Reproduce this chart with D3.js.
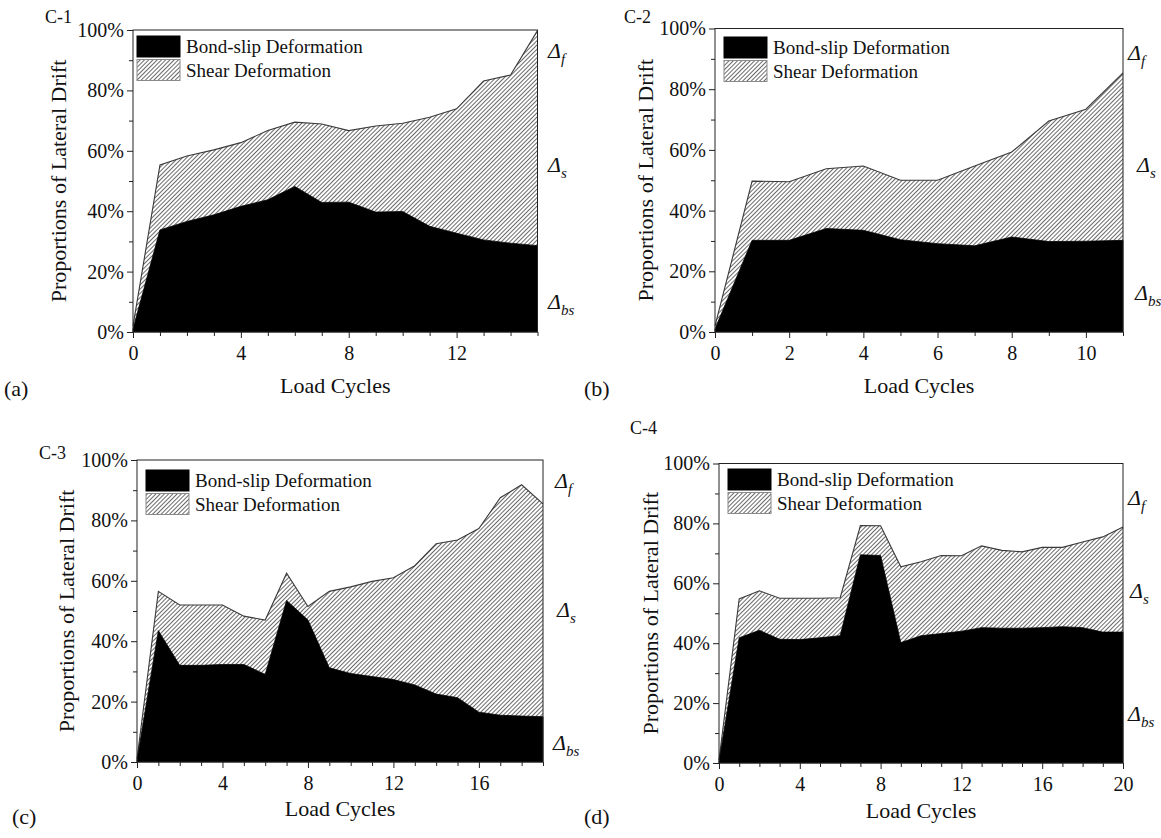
<!DOCTYPE html>
<html>
<head>
<meta charset="utf-8">
<script src="https://cdn.jsdelivr.net/npm/d3@7"></script>
</head>
<body style="margin:0; background:#fff">
<svg id="canvas" width="1161" height="838"></svg>
<script>
// Values, % of lateral drift, one entry per load cycle (0, 1, 2, ...)
// bondSlip = top of the black area, driftTop = top of the hatched (shear) area
const bondSlipC1 = [1, 33.8, 36.6, 38.8, 41.6, 43.8, 48.2, 42.9, 43.0, 39.7, 39.9, 35.0, 32.7, 30.5, 29.4, 28.6];
const driftTopC1 = [2, 55.3, 58.3, 60.3, 62.7, 66.7, 69.5, 68.9, 66.7, 68.2, 69.1, 71.1, 73.9, 83.1, 85.1, 99.8];

const bondSlipC2 = [1, 30.2, 30.2, 34.1, 33.5, 30.4, 29.1, 28.4, 31.3, 29.8, 29.9, 30.2];
const driftTopC2 = [2, 49.7, 49.5, 53.8, 54.7, 50.0, 50.0, 54.7, 59.3, 69.5, 73.4, 85.4];

const bondSlipC3 = [0.5, 43.5, 32.0, 32.0, 32.3, 32.3, 29.0, 53.5, 47.0, 31.2, 29.3, 28.3, 27.3, 25.5, 22.5, 21.3, 16.5, 15.5, 15.2, 15.0];
const driftTopC3 = [1, 56.5, 52.0, 52.0, 52.0, 48.3, 47.0, 62.5, 51.5, 56.5, 58.0, 59.8, 61.0, 65.0, 72.3, 73.5, 77.3, 87.5, 91.8, 85.5];

const bondSlipC4 = [0.5, 41.8, 44.3, 41.3, 41.2, 41.8, 42.5, 69.5, 69.3, 40.2, 42.5, 43.2, 44.0, 45.2, 45.0, 45.0, 45.2, 45.5, 45.2, 43.7, 43.7];
const driftTopC4 = [1, 54.8, 57.5, 55.0, 55.0, 55.0, 55.2, 79.3, 79.2, 65.5, 67.2, 69.3, 69.2, 72.5, 71.0, 70.5, 72.0, 72.0, 73.8, 75.5, 78.8];

const yMajorTicks = [0, 20, 40, 60, 80, 100];
const yMinorTicks = [10, 30, 50, 70, 90];
const legendLabels = ["Bond-slip Deformation", "Shear Deformation"];
const driftSubscripts = ["f", "s", "bs"];

const FONT = "'Liberation Serif', 'Times New Roman', Times, serif";

const panels = [
    { name: "C-1", tag: "(a)", bond: bondSlipC1, total: driftTopC1, xMax: 15, xMajor: [0, 4, 8, 12],
      left: 133, right: 537.5, top: 30, bottom: 332,
      nameX: 45, nameY: 23, tagX: 4, tagY: 396, titleX: 58, titleY: 393,
      legendX: 137, legendY: 36, deltaX: [548, 548, 548], deltaY: [58, 172, 309] },
    { name: "C-2", tag: "(b)", bond: bondSlipC2, total: driftTopC2, xMax: 11, xMajor: [0, 2, 4, 6, 8, 10],
      left: 715, right: 1123, top: 28.5, bottom: 332,
      nameX: 624, nameY: 23, tagX: 584, tagY: 396, titleX: 645, titleY: 393,
      legendX: 724, legendY: 37, deltaX: [1128, 1137, 1135], deltaY: [60, 172, 300] },
    { name: "C-3", tag: "(c)", bond: bondSlipC3, total: driftTopC3, xMax: 19, xMajor: [0, 4, 8, 12, 16],
      left: 137, right: 543, top: 460, bottom: 762,
      nameX: 39, nameY: 459, tagX: 12, tagY: 824, titleX: 66, titleY: 816,
      legendX: 146, legendY: 470, deltaX: [555, 557, 553], deltaY: [488, 617, 750] },
    { name: "C-4", tag: "(d)", bond: bondSlipC4, total: driftTopC4, xMax: 20, xMajor: [0, 4, 8, 12, 16, 20],
      left: 719, right: 1123, top: 463.5, bottom: 763,
      nameX: 630, nameY: 434, tagX: 584, tagY: 824, titleX: 650, titleY: 818,
      legendX: 728, legendY: 469, deltaX: [1128, 1130, 1128], deltaY: [505, 598, 721] }
];

const svg = d3.select("#canvas");

// diagonal hatch used for the shear area
svg.append("defs").append("pattern")
    .attr("id", "hatch")
    .attr("width", 3)
    .attr("height", 3)
    .attr("patternUnits", "userSpaceOnUse")
    .attr("patternTransform", "rotate(45)")
    .call(p => {
        p.append("rect").attr("width", 3).attr("height", 3).attr("fill", "#fff");
        p.append("line").attr("x1", 0.5).attr("x2", 0.5).attr("y1", 0).attr("y2", 3)
            .attr("stroke", "#6a6a6a").attr("stroke-width", 1);
    });

function drawPanel(p) {
    const g = svg.append("g");
    const cycles = p.bond.map((d, i) => i);

    const x = d3.scaleLinear().domain([0, p.xMax]).range([p.left, p.right]);
    const y = d3.scaleLinear().domain([0, 100]).range([p.bottom, p.top]);

    // shear area sits between bond-slip and the drift top
    const shearArea = d3.area()
        .x(i => x(i))
        .y0(i => y(p.bond[i]))
        .y1(i => y(p.total[i]));
    const bondArea = d3.area()
        .x(i => x(i))
        .y0(y(0))
        .y1(i => y(p.bond[i]));

    g.append("path")
        .attr("d", shearArea(cycles))
        .attr("fill", "url(#hatch)");
    g.append("path")
        .attr("d", d3.line().x(i => x(i)).y(i => y(p.total[i]))(cycles))
        .attr("fill", "none")
        .attr("stroke", "#3a3a3a")
        .attr("stroke-width", 1.1);
    g.append("path")
        .attr("d", bondArea(cycles))
        .attr("fill", "#000")
        .attr("stroke", "#000")
        .attr("stroke-width", 0.8);

    // frame
    g.append("rect")
        .attr("x", p.left)
        .attr("y", p.top)
        .attr("width", p.right - p.left)
        .attr("height", p.bottom - p.top)
        .attr("fill", "none")
        .attr("stroke", "#222")
        .attr("stroke-width", 1);

    // x axis, major and minor ticks pointing outward
    const xMinor = cycles.filter(c => p.xMajor.indexOf(c) < 0);
    g.append("g")
        .attr("transform", "translate(0," + p.bottom + ")")
        .call(d3.axisBottom(x).tickValues(xMinor).tickSize(4).tickFormat(""))
        .call(a => a.select(".domain").remove());
    g.append("g")
        .attr("transform", "translate(0," + p.bottom + ")")
        .call(d3.axisBottom(x).tickValues(p.xMajor).tickSize(6).tickPadding(8).tickFormat(d3.format("d")))
        .call(a => a.select(".domain").remove())
        .call(a => a.selectAll("text").style("font-size", "20px").attr("fill", "#111"));

    // y axis
    g.append("g")
        .attr("transform", "translate(" + p.left + ",0)")
        .call(d3.axisLeft(y).tickValues(yMinorTicks).tickSize(4).tickFormat(""))
        .call(a => a.select(".domain").remove());
    g.append("g")
        .attr("transform", "translate(" + p.left + ",0)")
        .call(d3.axisLeft(y).tickValues(yMajorTicks).tickSize(6).tickPadding(3).tickFormat(d => d + "%"))
        .call(a => a.select(".domain").remove())
        .call(a => a.selectAll("text").style("font-size", "20px").attr("fill", "#111"));

    g.selectAll(".tick line").attr("stroke", "#222");

    // axis titles
    g.append("text")
        .attr("x", (p.left + p.right) / 2)
        .attr("y", p.titleY)
        .attr("text-anchor", "middle")
        .style("font-size", "22px")
        .text("Load Cycles");
    g.append("text")
        .attr("transform", "translate(" + p.titleX + "," + ((p.top + p.bottom) / 2) + ") rotate(-90)")
        .attr("text-anchor", "middle")
        .attr("dy", "0.35em")
        .style("font-size", "22px")
        .text("Proportions of Lateral Drift");

    // specimen name and panel tag
    g.append("text")
        .attr("x", p.nameX).attr("y", p.nameY)
        .style("font-size", "18px")
        .text(p.name);
    g.append("text")
        .attr("x", p.tagX).attr("y", p.tagY)
        .style("font-size", "22px")
        .text(p.tag);

    // legend
    const fills = ["#000", "url(#hatch)"];
    const strokes = ["#000", "#8a8a8a"];
    legendLabels.forEach((label, k) => {
        const ly = p.legendY + k * 23.5;
        g.append("rect")
            .attr("x", p.legendX).attr("y", ly)
            .attr("width", 43).attr("height", 21)
            .attr("fill", fills[k])
            .attr("stroke", strokes[k])
            .attr("stroke-width", 1);
        g.append("text")
            .attr("x", p.legendX + 49)
            .attr("y", ly + 17)
            .style("font-size", "19px")
            .text(label);
    });

    // delta labels on the right
    driftSubscripts.forEach((sub, k) => {
        const t = g.append("text")
            .attr("x", p.deltaX[k])
            .attr("y", p.deltaY[k])
            .style("font-size", "22px")
            .style("font-style", "italic");
        t.append("tspan").text("\u0394");
        t.append("tspan")
            .attr("dy", 6)
            .style("font-size", "15px")
            .text(sub);
    });
}

panels.forEach(drawPanel);

// one serif face for every label, axis texts included
svg.selectAll("text")
    .style("font-family", FONT)
    .style("fill", "#111");
</script>
</body>
</html>
